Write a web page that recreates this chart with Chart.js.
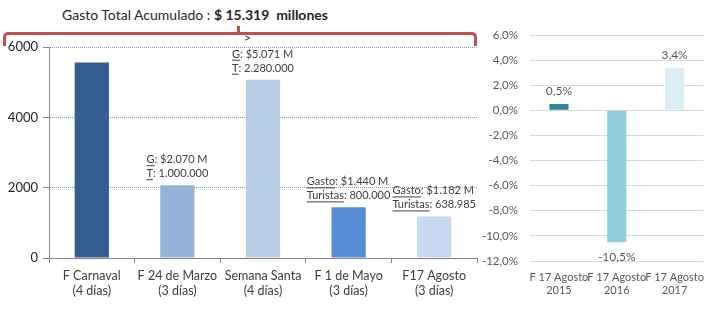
<!DOCTYPE html>
<html>
<head>
<meta charset="utf-8">
<script src="https://cdn.jsdelivr.net/npm/chart.js@4"></script>
<style>
  body { margin: 0; background: #fff; width: 706px; height: 321px; position: relative; overflow: hidden; font-family: Lato, sans-serif; }
  #titulo { position: absolute; left: 62px; top: 6px; font-size: 14px; color: #262626; white-space: pre; }
  #llave { position: absolute; left: 3px; top: 32px; width: 468px; height: 11px; border: 3px solid #C0504D; border-bottom: none; border-radius: 5px 5px 0 0; }
  #pico { position: absolute; left: 237px; top: 26px; width: 3px; height: 7px; background: #C0504D; }
  #flecha { position: absolute; left: 244px; top: 30px; font-size: 12px; color: #333; }
  #izq { position: absolute; left: 0; top: 0; }
  #der { position: absolute; left: 480px; top: 0; }
</style>
</head>
<body>
<div id="titulo">Gasto Total Acumulado : <b>$ 15.319  millones</b></div>
<div id="llave"></div>
<div id="pico"></div>
<div id="flecha">&gt;</div>
<canvas id="izq" width="480" height="321"></canvas>
<canvas id="der" width="226" height="321"></canvas>
<script>
// ===============================
// DATOS
// ===============================
const feriados = [
  ["F Carnaval", "(4 días)"],
  ["F 24 de Marzo", "(3 días)"],
  ["Semana Santa", "(4 días)"],
  ["F 1 de Mayo", "(3 días)"],
  ["F17 Agosto", "(3 días)"],
];
const gastoMillones = [5556, 2070, 5071, 1440, 1182];
const coloresFeriados = ["#335E91", "#95B3D7", "#B9CDE5", "#558ED5", "#C6D9F1"];
const clavesGasto = ["", "G", "G", "Gasto", "Gasto"];
const textosGasto = ["", "$2.070 M", "$5.071 M", "$1.440 M", "$1.182 M"];
const clavesTuristas = ["", "T", "T", "Turistas", "Turistas"];
const textosTuristas = ["", "1.000.000", "2.280.000", "800.000", "638.985"];

const anios = [
  ["F 17 Agosto", "2015"],
  ["F 17 Agosto", "2016"],
  ["F 17 Agosto", "2017"],
];
const variacion = [0.5, -10.5, 3.4];
const coloresAnios = ["#31859C", "#92CDDC", "#DAEEF3"];

// ===============================
// PLUGINS DE ETIQUETAS
// ===============================
function anchoPartes(ctx, partes) {
  return ctx.measureText(partes[0]).width + ctx.measureText(partes[1]).width;
}

function dibujarPartes(ctx, partes, x, y) {
  const w0 = ctx.measureText(partes[0]).width;
  ctx.fillText(partes[0], x, y);
  ctx.fillRect(x, y + 2, w0, 1);
  ctx.fillText(partes[1], x + w0, y);
}

const etiquetasGasto = {
  id: "etiquetasGasto",
  afterDatasetsDraw(chart) {
    const ctx = chart.ctx;
    ctx.save();
    ctx.font = "11px Lato";
    ctx.fillStyle = "#404040";
    ctx.textAlign = "left";
    ctx.textBaseline = "alphabetic";
    chart.getDatasetMeta(0).data.forEach((bar, i) => {
      if (!clavesGasto[i]) return;
      const l1 = [clavesGasto[i], ": " + textosGasto[i]];
      const l2 = [clavesTuristas[i], ": " + textosTuristas[i]];
      const w = Math.max(anchoPartes(ctx, l1), anchoPartes(ctx, l2));
      const x0 = bar.x - w / 2;
      dibujarPartes(ctx, l1, x0, bar.y - 22);
      dibujarPartes(ctx, l2, x0, bar.y - 8);
    });
    ctx.restore();
  },
};

const etiquetasVariacion = {
  id: "etiquetasVariacion",
  afterDatasetsDraw(chart) {
    const ctx = chart.ctx;
    ctx.save();
    ctx.font = "12px Lato";
    ctx.fillStyle = "#595959";
    ctx.textAlign = "center";
    ctx.textBaseline = "middle";
    chart.getDatasetMeta(0).data.forEach((bar, i) => {
      const v = variacion[i];
      const y = v >= 0 ? bar.y - 13 : bar.y + 15;
      ctx.fillText(v.toFixed(1).replace(".", ",") + "%", bar.x, y);
    });
    ctx.restore();
  },
};

// ===============================
// GRAFICOS
// ===============================
new Chart(document.getElementById("izq"), {
  type: "bar",
  data: {
    labels: feriados,
    datasets: [{
      data: gastoMillones,
      backgroundColor: coloresFeriados,
      barPercentage: 0.4,
      categoryPercentage: 1,
    }],
  },
  options: {
    responsive: false,
    animation: false,
    layout: { padding: { top: 47, right: 3, left: 0, bottom: 0 } },
    plugins: { legend: { display: false }, tooltip: { enabled: false } },
    scales: {
      x: {
        afterFit: (s) => { s.height = 63; },
        grid: { drawOnChartArea: false, color: "#868686", tickLength: 5 },
        border: { color: "#868686" },
        ticks: { color: "#404040", font: { size: 12.5, family: "Lato" }, maxRotation: 0, autoSkip: false, padding: 5 },
      },
      y: {
        min: 0,
        max: 6000,
        afterFit: (s) => { s.width = 49; },
        grid: { color: "#6FA3DC", tickColor: "#868686", tickLength: 6 },
        border: { color: "#868686", dash: [1, 1] },
        ticks: { stepSize: 2000, color: "#262626", font: { size: 13, family: "Lato" }, padding: 5, callback: (v) => String(v) },
      },
    },
  },
  plugins: [etiquetasGasto],
});

new Chart(document.getElementById("der"), {
  type: "bar",
  data: {
    labels: anios,
    datasets: [{
      data: variacion,
      backgroundColor: coloresAnios,
      barPercentage: 0.33,
      categoryPercentage: 1,
    }],
  },
  options: {
    responsive: false,
    animation: false,
    layout: { padding: { top: 35, right: 0, left: 0, bottom: 0 } },
    plugins: { legend: { display: false }, tooltip: { enabled: false } },
    scales: {
      x: {
        afterFit: (s) => { s.height = 60; },
        grid: { display: false },
        border: { display: false },
        ticks: { color: "#595959", font: { size: 11, family: "Lato" }, maxRotation: 0, autoSkip: false, padding: 2 },
      },
      y: {
        min: -12,
        max: 6,
        afterFit: (s) => { s.width = 50; },
        grid: { color: "#D9D9D9", drawTicks: false },
        border: { display: false },
        ticks: {
          stepSize: 2,
          color: "#595959",
          font: { size: 11.5, family: "Lato" },
          padding: 12,
          callback: (v) => v.toFixed(1).replace(".", ",") + "%",
        },
      },
    },
  },
  plugins: [etiquetasVariacion],
});
</script>
</body>
</html>
